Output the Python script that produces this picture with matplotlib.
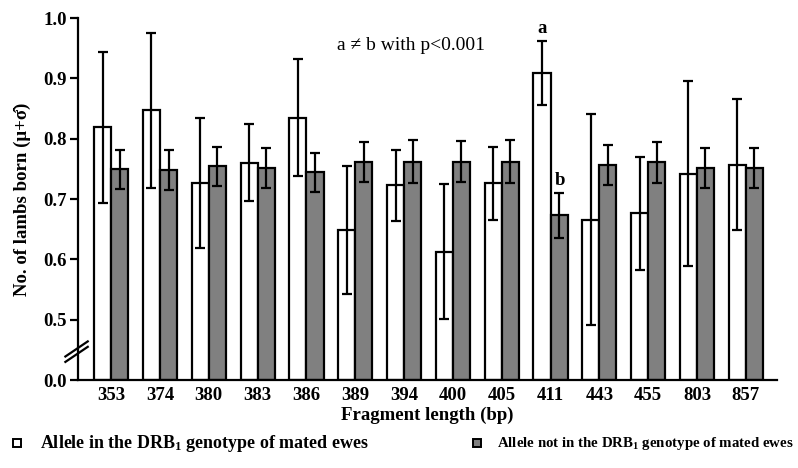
import matplotlib
matplotlib.use("Agg")
import matplotlib.pyplot as plt
import matplotlib.patches as mpatches
import numpy as np

plt.rcParams["font.family"] = ["Liberation Serif", "DejaVu Serif"]
plt.rcParams["mathtext.default"] = "regular"

# ── Datos ─────────────────────────────────────────────────────────────
fragments = ["353", "374", "380", "383", "386", "389", "394",
             "400", "405", "411", "443", "455", "803", "857"]

in_mean = [0.819, 0.847, 0.726, 0.760, 0.835, 0.649, 0.723,
           0.613, 0.726, 0.909, 0.666, 0.676, 0.742, 0.757]
in_err = [0.125, 0.128, 0.108, 0.064, 0.097, 0.106, 0.059,
          0.112, 0.060, 0.053, 0.175, 0.094, 0.153, 0.108]

out_mean = [0.749, 0.748, 0.754, 0.751, 0.744, 0.761, 0.762,
            0.762, 0.762, 0.673, 0.756, 0.761, 0.752, 0.752]
out_err = [0.033, 0.033, 0.033, 0.033, 0.033, 0.033, 0.035,
           0.034, 0.036, 0.037, 0.033, 0.034, 0.033, 0.033]

y_ticks = [0.0, 0.5, 0.6, 0.7, 0.8, 0.9, 1.0]

# eje roto: 0.0 se dibuja en 0.4
BASE = 0.4
GRAY = "#808080"
FS = 13.5

def to_axis(v):
    return BASE if v == 0.0 else v

fig = plt.figure(figsize=(7.98, 4.68), dpi=100)
ax = fig.add_axes([0.0977, 0.188, 0.876, 0.7735])

x = np.arange(len(fragments))
w = 0.35
in_h = np.array(in_mean) - BASE
out_h = np.array(out_mean) - BASE

ax.bar(x - w / 2, in_h, w, bottom=BASE, color="white",
       edgecolor="black", linewidth=1.6, zorder=2)
ax.bar(x + w / 2, out_h, w, bottom=BASE, color=GRAY,
       edgecolor="black", linewidth=1.6, zorder=2)
ax.errorbar(x - w / 2, in_mean, yerr=in_err, fmt="none", ecolor="black",
            elinewidth=1.6, capsize=3.3, capthick=1.6, zorder=3)
ax.errorbar(x + w / 2, out_mean, yerr=out_err, fmt="none", ecolor="black",
            elinewidth=1.6, capsize=3.3, capthick=1.6, zorder=3)

ax.set_xlim(-0.68, len(fragments) - 1 + 0.64)
ax.set_ylim(BASE, 1.0)
ax.set_yticks([to_axis(v) for v in y_ticks])
ax.set_yticklabels([f"{v:.1f}" for v in y_ticks], fontsize=FS,
                   fontweight="bold")
ax.set_xticks(x)
ax.set_xticklabels(fragments, fontsize=FS, fontweight="bold")
ax.tick_params(axis="x", length=0, pad=5)
ax.tick_params(axis="y", length=6, width=1.6, pad=2)

for s in ["top", "right"]:
    ax.spines[s].set_visible(False)
for s in ["left", "bottom"]:
    ax.spines[s].set_linewidth(1.6)

ax.set_xlabel("Fragment length (bp)", fontsize=FS, fontweight="bold",
              labelpad=2)
ax.set_ylabel("No. of lambs born (\u03bc+\u03c3\u0302)", fontsize=FS,
              fontweight="bold", labelpad=9)

# marcas de corte
for dy in (0.0, 0.009):
    ax.plot([-0.018, 0.014], [0.430 + dy, 0.455 + dy], color="black",
            lw=1.6, transform=ax.get_yaxis_transform(), clip_on=False,
            zorder=5)

# anotaciones
ax.text(6.15, 0.955, "a \u2260 b with p<0.001", ha="center", va="center",
        fontsize=14)
ax.text(9 - w / 2, 0.983, "a", ha="center", va="center", fontsize=FS,
        fontweight="bold")
ax.text(9 + w / 2 + 0.02, 0.731, "b", ha="center", va="center",
        fontsize=FS, fontweight="bold")

# leyenda
ly = 1 - 443 / 468
for mx, tx, fc, fs, label in [
    (13, 40, "white", 13, "Allele in the DRB$_1$ genotype of mated ewes"),
    (473, 497, GRAY, 10.7, "Allele not in the DRB$_1$ genotype of mated ewes"),
]:
    fig.patches.append(mpatches.Rectangle(
        (mx / 798, ly - 4 / 468), 8 / 798, 8 / 468, facecolor=fc,
        edgecolor="black", linewidth=1.4, transform=fig.transFigure))
    fig.text(tx / 798, ly, label, ha="left", va="center", fontsize=fs,
             fontweight="bold")

fig.savefig("out.png", dpi=100, facecolor="white")
